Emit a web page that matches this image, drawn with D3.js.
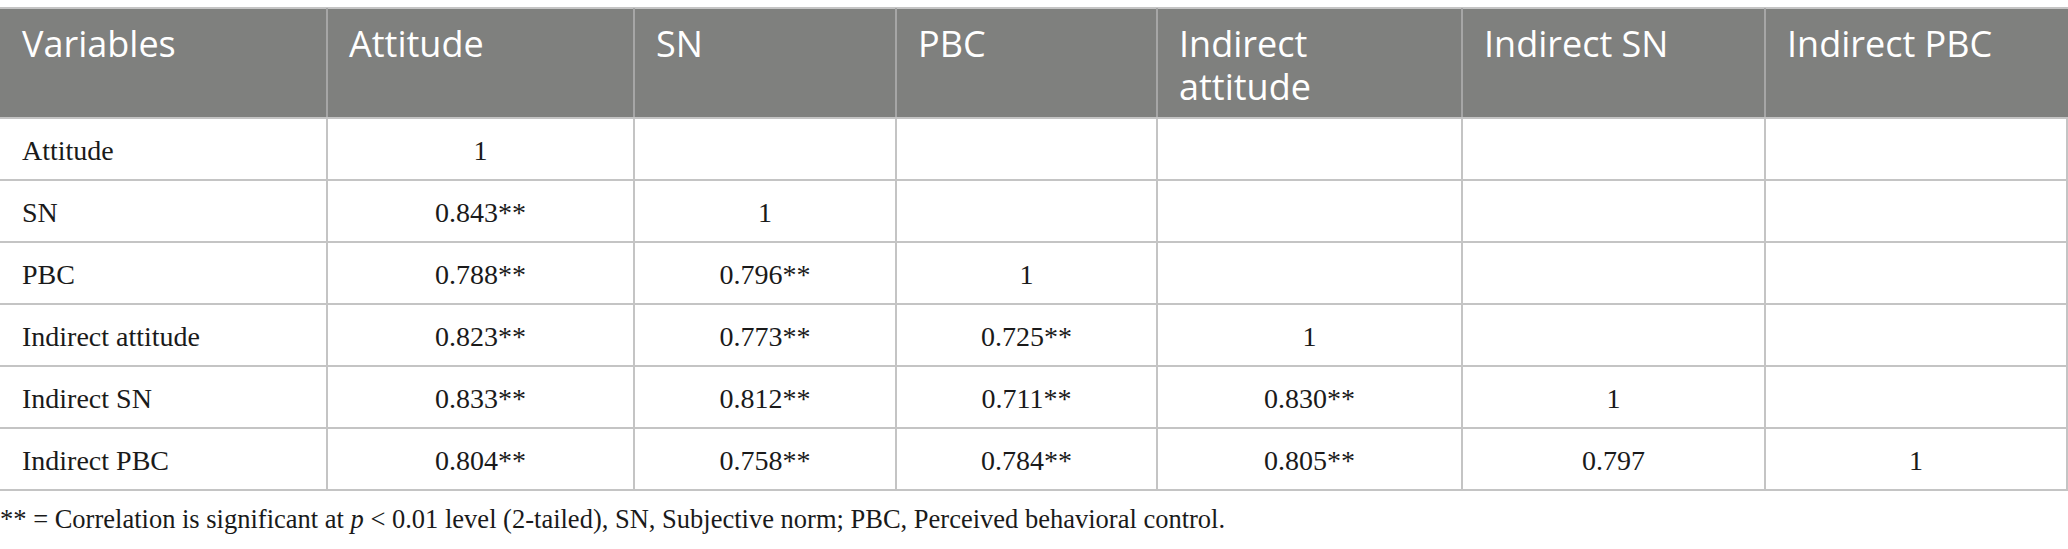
<!DOCTYPE html>
<html>
<head>
<meta charset="utf-8">
<script src="https://cdn.jsdelivr.net/npm/d3@7"></script>
<style>
  html, body { margin: 0; padding: 0; background: #fff; }
  svg { display: block; }
</style>
</head>
<body>
<svg id="chart" width="2068" height="549"></svg>
<script>
// ---- data ----
const headers = ["Variables", "Attitude", "SN", "PBC", "Indirect attitude", "Indirect SN", "Indirect PBC"];
const headerLines = [["Variables"], ["Attitude"], ["SN"], ["PBC"], ["Indirect", "attitude"], ["Indirect SN"], ["Indirect PBC"]];
const rowLabels = ["Attitude", "SN", "PBC", "Indirect attitude", "Indirect SN", "Indirect PBC"];
const attitudeCol = ["1", "0.843**", "0.788**", "0.823**", "0.833**", "0.804**"];
const snCol       = ["",  "1",       "0.796**", "0.773**", "0.812**", "0.758**"];
const pbcCol      = ["",  "",        "1",       "0.725**", "0.711**", "0.784**"];
const indAttCol   = ["",  "",        "",        "1",       "0.830**", "0.805**"];
const indSnCol    = ["",  "",        "",        "",        "1",       "0.797"];
const indPbcCol   = ["",  "",        "",        "",        "",        "1"];
const footnote = "** = Correlation is significant at p < 0.01 level (2-tailed), SN, Subjective norm; PBC, Perceived behavioral control.";

// ---- layout ----
const W = 2068;
const colEdges = [0, 327, 634, 896, 1157, 1462, 1765, 2067];
const tableTop = 8, headerBottom = 118, rowH = 62;
const valueCols = [attitudeCol, snCol, pbcCol, indAttCol, indSnCol, indPbcCol];

const svg = d3.select("#chart");

const xCol = d3.scaleOrdinal().domain(headers).range(colEdges.slice(0, 7));
const colW = h => colEdges[headers.indexOf(h) + 1] - colEdges[headers.indexOf(h)];
const yRow = d3.scaleBand().domain(rowLabels).range([headerBottom, headerBottom + rowH * rowLabels.length]).padding(0);

const serif = "'Liberation Serif', 'Times New Roman', serif";
const sans = "'Open Sans', 'Noto Sans', sans-serif";

// header background
svg.append("rect").attr("x", 0).attr("y", tableTop).attr("width", W).attr("height", headerBottom - tableTop)
  .attr("fill", "#7f807e");

// header text
const hg = svg.append("g");
headers.forEach((h, i) => {
  const t = hg.append("text")
    .attr("x", xCol(h) + 22)
    .attr("y", 57)
    .attr("fill", "#ffffff")
    .style("font-family", sans)
    .style("font-size", "36px");
  headerLines[i].forEach((ln, j) => {
    t.append("tspan").attr("x", xCol(h) + 22).attr("dy", j === 0 ? 0 : 43).text(ln);
  });
});

// body cells
const bg = svg.append("g");
rowLabels.forEach((r, ri) => {
  bg.append("text")
    .attr("x", 22)
    .attr("y", yRow(r) + 42)
    .attr("fill", "#1a1a1a")
    .style("font-family", serif)
    .style("font-size", "28px")
    .text(r);
  valueCols.forEach((col, ci) => {
    const h = headers[ci + 1];
    const v = col[ri];
    if (!v) return;
    bg.append("text")
      .attr("x", xCol(h) + colW(h) / 2)
      .attr("y", yRow(r) + 42)
      .attr("text-anchor", "middle")
      .attr("fill", "#1a1a1a")
      .style("font-family", serif)
      .style("font-size", "28px")
      .text(v);
  });
});

// grid lines
const lg = svg.append("g");
lg.append("line").attr("x1", 0).attr("x2", W).attr("y1", tableTop).attr("y2", tableTop)
  .attr("stroke", "#c4c4c4").attr("stroke-width", 2);
colEdges.slice(1, 7).forEach(x => {
  lg.append("line").attr("x1", x).attr("x2", x).attr("y1", tableTop).attr("y2", headerBottom)
    .attr("stroke", "#a6a6a6").attr("stroke-width", 2);
});
const rowLines = [headerBottom].concat(rowLabels.map(r => yRow(r) + yRow.bandwidth()));
rowLines.forEach(y => {
  lg.append("line").attr("x1", 0).attr("x2", W).attr("y1", y).attr("y2", y)
    .attr("stroke", "#c4c4c4").attr("stroke-width", 2);
});
const bodyBottom = rowLines[rowLines.length - 1];
colEdges.slice(1).forEach(x => {
  lg.append("line").attr("x1", x).attr("x2", x).attr("y1", headerBottom).attr("y2", bodyBottom)
    .attr("stroke", "#c4c4c4").attr("stroke-width", 2);
});

// footnote
const ft = svg.append("text")
  .attr("x", 0)
  .attr("y", 528)
  .attr("fill", "#1a1a1a")
  .style("font-family", serif)
  .style("font-size", "26.5px");
const parts = footnote.split(" p ");
ft.append("tspan").text(parts[0] + " ");
ft.append("tspan").style("font-style", "italic").text("p");
ft.append("tspan").text(" " + parts[1]);
</script>
</body>
</html>
